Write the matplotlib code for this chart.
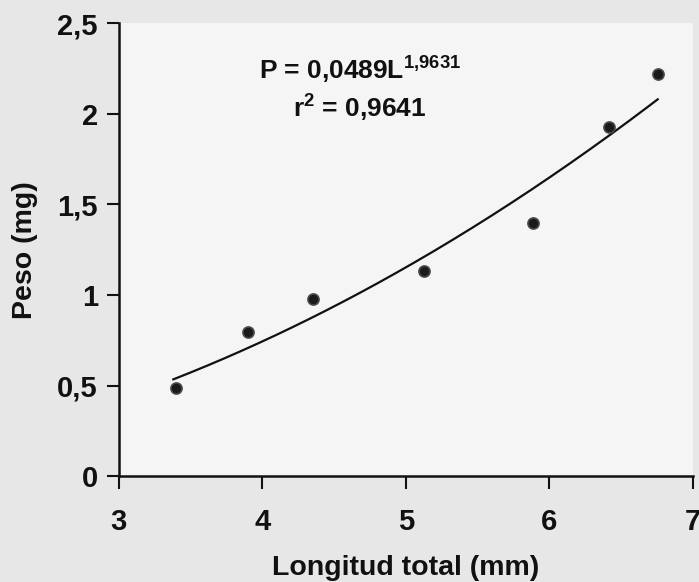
import numpy as np
from matplotlib import pyplot as plt

# data
longitud = [3.40, 3.90, 4.35, 5.13, 5.885, 6.42, 6.756]
peso = [0.486, 0.795, 0.98, 1.135, 1.398, 1.925, 2.22]
coef_a = 0.0489
coef_b = 1.9631
x_ticks = [3, 4, 5, 6, 7]
y_ticks = [0, 0.5, 1, 1.5, 2, 2.5]
y_labels = ["0", "0,5", "1", "1,5", "2", "2,5"]

plt.rcParams['font.family'] = ['Liberation Sans', 'DejaVu Sans']
plt.rcParams['font.weight'] = 'bold'
plt.rcParams['mathtext.fontset'] = 'custom'
plt.rcParams['mathtext.rm'] = 'Liberation Sans:bold'
plt.rcParams['mathtext.bf'] = 'Liberation Sans:bold'

fig = plt.figure(figsize=(6.99, 5.82), dpi=100, facecolor="#e7e7e7")
ax = fig.add_axes([0.170, 0.182, 0.821, 0.778])
ax.set_facecolor("#f5f5f5")

# fitted curve
xs = np.linspace(longitud[0] - 0.02, longitud[-1], 200)
ax.plot(xs, coef_a * xs ** coef_b, color="#111111", lw=1.6, zorder=2)
ax.plot(longitud, peso, "o", ms=8, mfc="#1a1a1a", mec="#4a4a4a", mew=1.2,
        zorder=3)

ax.set_xlim(3, 7)
ax.set_ylim(0, 2.5)
ax.set_xticks(x_ticks)
ax.set_yticks(y_ticks)
ax.set_yticklabels(y_labels)
ax.tick_params(labelsize=21, width=1.5, length=9, color="#111111",
               labelcolor="#111111")
ax.tick_params(axis="x", pad=14)
ax.tick_params(axis="y", pad=6)

for s in ["top", "right"]:
    ax.spines[s].set_visible(False)
for s in ["left", "bottom"]:
    ax.spines[s].set_linewidth(1.8)
    ax.spines[s].set_color("#111111")

ax.set_xlabel("Longitud total (mm)", fontsize=20.5, fontweight="bold",
              color="#111111", labelpad=14)
ax.set_ylabel("Peso (mg)", fontsize=20.5, fontweight="bold",
              color="#111111", labelpad=14)

ax.text(0.42, 0.90, r"P = 0,0489L$^{\mathbf{1{,}9631}}$", transform=ax.transAxes,
        ha="center", va="center", fontsize=19, fontweight="bold",
        color="#111111")
ax.text(0.42, 0.815, r"r$^{\mathbf{2}}$ = 0,9641", transform=ax.transAxes,
        ha="center", va="center", fontsize=19, fontweight="bold",
        color="#111111")

fig.savefig("out.png", dpi=100, facecolor=fig.get_facecolor())
